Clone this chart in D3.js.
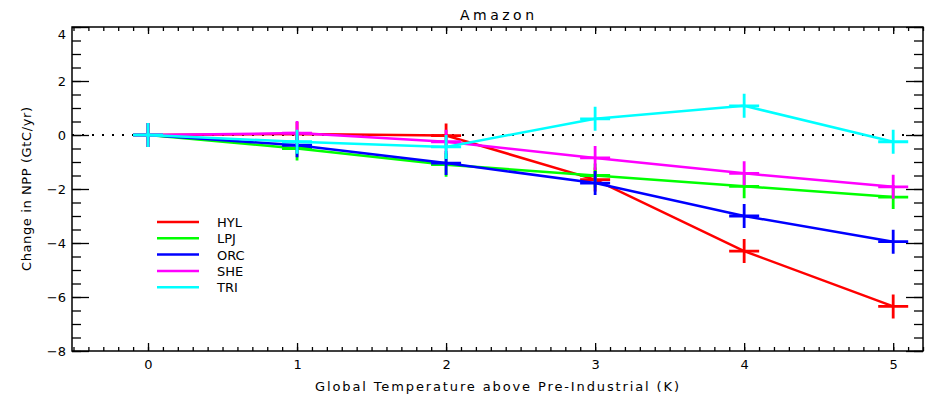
<!DOCTYPE html>
<html>
<head>
<meta charset="utf-8">
<script src="https://cdn.jsdelivr.net/npm/d3@7"></script>
<style>
  body { margin: 0; background: #fff; }
  svg text { font-family: "DejaVu Sans", sans-serif; fill: #000; }
  .axis path { display: none; }
  .axis line { stroke: #000; stroke-width: 1.3; }
  .axis text { font-size: 13px; }
</style>
</head>
<body>
<div id="chart"></div>
<script>
// data
var temps = [0, 1, 2, 3, 4, 5];
var seriesNames = ["HYL", "LPJ", "ORC", "SHE", "TRI"];
var seriesColors = ["#ff0000", "#00ff00", "#0000ff", "#ff00ff", "#00ffff"];
var hyl = [0, 0.04, -0.02, -1.65, -4.3, -6.35];
var lpj = [0, -0.5, -1.1, -1.5, -1.9, -2.3];
var orc = [0, -0.38, -1.04, -1.78, -3.0, -3.95];
var she = [0, 0.07, -0.25, -0.85, -1.42, -1.92];
var tri = [0, -0.25, -0.44, 0.6, 1.08, -0.25];
var seriesValues = [hyl, lpj, orc, she, tri];
var xMajorTicks = [0, 1, 2, 3, 4, 5];
var yMajorTicks = [-8, -6, -4, -2, 0, 2, 4];

var svgWidth = 932, svgHeight = 398;
var margin = { top: 27, right: 9, bottom: 47, left: 72 };
var width = svgWidth - margin.left - margin.right,
    height = svgHeight - margin.top - margin.bottom;

var svg = d3.select("#chart").append("svg")
    .attr("width", svgWidth)
    .attr("height", svgHeight);

var x = d3.scaleLinear().domain([-0.51, 5.2]).range([0, width]);
var y = d3.scaleLinear().domain([-8, 4]).range([height, 0]);

var g = svg.append("g")
    .attr("transform", "translate(" + margin.left + "," + margin.top + ")");

var fmt = function (d) { return d < 0 ? "\u2212" + Math.abs(d) : String(d); };
var xMinor = d3.range(-5, 53).map(function (i) { return i / 10; });
var yMinor = d3.range(-16, 9).map(function (i) { return i / 2; });

// bottom axis
g.append("g").attr("class", "axis")
    .attr("transform", "translate(0," + height + ")")
    .call(d3.axisBottom(x).tickValues(xMinor).tickSize(-4).tickFormat(""));
g.append("g").attr("class", "axis")
    .attr("transform", "translate(0," + height + ")")
    .call(d3.axisBottom(x).tickValues(xMajorTicks).tickSize(-8).tickPadding(9).tickFormat(fmt));
// top axis
g.append("g").attr("class", "axis")
    .call(d3.axisTop(x).tickValues(xMinor).tickSize(-4).tickFormat(""));
g.append("g").attr("class", "axis")
    .call(d3.axisTop(x).tickValues(xMajorTicks).tickSize(-7).tickFormat(""));
// left axis
g.append("g").attr("class", "axis")
    .call(d3.axisLeft(y).tickValues(yMinor).tickSize(-9).tickFormat(""));
var yAxisG = g.append("g").attr("class", "axis")
    .call(d3.axisLeft(y).tickValues(yMajorTicks).tickSize(-17).tickPadding(6).tickFormat(fmt));
// top label sits a bit below its tick, like the original
yAxisG.selectAll(".tick").filter(function (d) { return d === 4; })
    .select("text").attr("dy", "0.9em");
// right axis
g.append("g").attr("class", "axis")
    .attr("transform", "translate(" + width + ",0)")
    .call(d3.axisRight(y).tickValues(yMinor).tickSize(-9).tickFormat(""));
g.append("g").attr("class", "axis")
    .attr("transform", "translate(" + width + ",0)")
    .call(d3.axisRight(y).tickValues(yMajorTicks).tickSize(-17).tickFormat(""));

// frame
g.append("rect")
    .attr("width", width).attr("height", height)
    .attr("fill", "none").attr("stroke", "#000").attr("stroke-width", 1.5);

// dotted zero line
g.append("line")
    .attr("x1", 0).attr("x2", width)
    .attr("y1", y(0)).attr("y2", y(0))
    .attr("stroke", "#000").attr("stroke-width", 2)
    .attr("stroke-dasharray", "2,8");

var line = d3.line()
    .x(function (d, i) { return x(temps[i]); })
    .y(function (d) { return y(d); });

seriesValues.forEach(function (vals, k) {
    var s = g.append("g");
    s.append("path")
        .datum(vals)
        .attr("fill", "none")
        .attr("stroke", seriesColors[k])
        .attr("stroke-width", 2.5)
        .attr("d", line);
    s.selectAll(".plus")
        .data(vals)
        .enter().append("path")
        .attr("stroke", seriesColors[k])
        .attr("stroke-width", 2.8)
        .attr("d", function (d, i) {
            var cx = x(temps[i]), cy = y(d);
            return "M" + (cx - 15) + "," + cy + "H" + (cx + 15) +
                   "M" + cx + "," + (cy - 12) + "V" + (cy + 12);
        });
});

// legend
var legend = svg.append("g").attr("transform", "translate(157,222)");
seriesNames.forEach(function (name, k) {
    var row = legend.append("g").attr("transform", "translate(0," + (k * 16.3) + ")");
    row.append("line")
        .attr("x1", 0).attr("x2", 42)
        .attr("stroke", seriesColors[k]).attr("stroke-width", 2.5);
    row.append("text")
        .attr("x", 60).attr("y", 5)
        .style("font-size", "13px")
        .text(name);
});

// titles
svg.append("text")
    .attr("x", 497).attr("y", 20)
    .attr("text-anchor", "middle")
    .style("font-size", "14px")
    .attr("textLength", 74)
    .text("Amazon");

svg.append("text")
    .attr("x", 497).attr("y", 391)
    .attr("text-anchor", "middle")
    .style("font-size", "13px")
    .attr("textLength", 364)
    .text("Global Temperature above Pre-Industrial (K)");

svg.append("text")
    .attr("transform", "translate(31,189) rotate(-90)")
    .attr("text-anchor", "middle")
    .style("font-size", "13px")
    .attr("textLength", 164)
    .text("Change in NPP (GtC/yr)");
</script>
</body>
</html>
